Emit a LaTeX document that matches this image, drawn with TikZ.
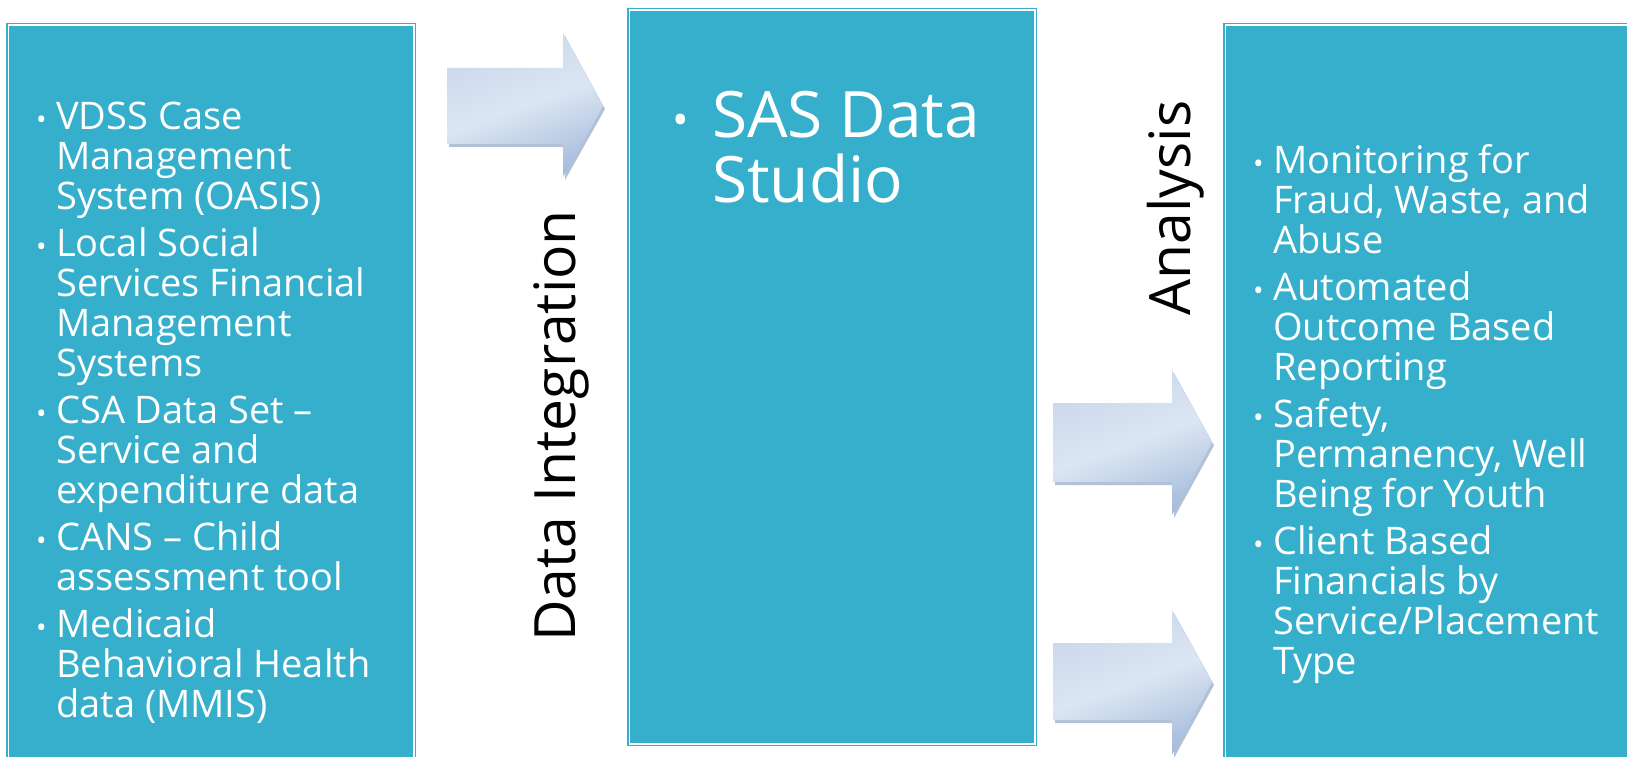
\documentclass[tikz,border=0pt]{standalone}
\usepackage{fontspec}
\setmainfont{Open Sans}
\usetikzlibrary{shadows}
\definecolor{boxfill}{HTML}{35AFCB}
\definecolor{arrlight}{HTML}{DCE6F2}
\definecolor{arrmid}{HTML}{C8D7EB}
\definecolor{arrdark}{HTML}{A7BDDD}
\definecolor{arrshadow}{HTML}{8FA6C8}
\newcommand{\bul}{\makebox[17pt][l]{\hspace{-3pt}\raisebox{0pt}{\fontsize{28}{28}\selectfont •}}}
\newcommand{\bigbul}{\makebox[36pt][l]{\hspace{-4pt}\raisebox{2pt}{\fontsize{44}{44}\selectfont •}}}
\begin{document}
\begin{tikzpicture}[x=1pt,y=-1pt,
  panel/.style={fill=boxfill, draw=boxfill, double=white, double distance=1.5pt, line width=1.5pt, inner sep=0, outer sep=0},
  bitem/.style={anchor=base west, inner sep=0, text=white, font=\fontsize{38}{40}\selectfont},
  vlabel/.style={anchor=base, rotate=90, inner sep=0, text=black, font=\fontsize{57}{60}\selectfont},
  blockarrow/.style={top color=arrmid, bottom color=arrdark, middle color=arrlight, shading angle=20,
    drop shadow={shadow xshift=2pt, shadow yshift=-3pt, fill=arrshadow, opacity=0.7}}
]
\useasboundingbox (0,0) rectangle (1627,757);
\clip (0,0) rectangle (1627,757);

% panels
\node[panel, minimum width=405.5pt, minimum height=772.5pt] (src) at (211,411.5) {};
\node[panel, minimum width=405.5pt, minimum height=733.5pt] (sasbox) at (832,377) {};
\node[panel, minimum width=472.5pt, minimum height=772.5pt] (outbox) at (1461.5,411.5) {};

% block arrows
\path[blockarrow] (447,68) -- (563,68) -- (563,33) -- (603,106) -- (563,177) -- (563,144) -- (447,144) -- cycle;
\path[blockarrow] (1053,403) -- (1172,403) -- (1172,370) -- (1212,442.5) -- (1172,515) -- (1172,482) -- (1053,482) -- cycle;
\path[blockarrow] (1053,643) -- (1172,643) -- (1172,610) -- (1212,682) -- (1172,755) -- (1172,720) -- (1053,720) -- cycle;

% left items
\node[bitem] (l1) at (39,129) {\bul\parbox[t]{340pt}{\raggedright VDSS Case\\Management\\System (OASIS)}};
\node[bitem] (l2) at (39,256) {\bul\parbox[t]{340pt}{\raggedright Local Social\\Services Financial\\Management\\Systems}};
\node[bitem] (l3) at (39,423) {\bul\parbox[t]{340pt}{\raggedright CSA Data Set --\\Service and\\expenditure data}};
\node[bitem] (l4) at (39,550) {\bul\parbox[t]{340pt}{\raggedright CANS -- Child\\assessment tool}};
\node[bitem] (l5) at (39,637) {\bul\parbox[t]{340pt}{\raggedright Medicaid\\Behavioral Health\\data (MMIS)}};

% middle
\node[anchor=base west, inner sep=0, text=white, font=\fontsize{64}{65}\selectfont] (sas) at (676,138)
  {\bigbul\parbox[t]{320pt}{\raggedright SAS Data\\Studio}};

% right items
\node[bitem] (r1) at (1256,173) {\bul\parbox[t]{360pt}{\raggedright Monitoring for\\Fraud, Waste, and\\Abuse}};
\node[bitem] (r2) at (1256,300) {\bul\parbox[t]{360pt}{\raggedright Automated\\Outcome Based\\Reporting}};
\node[bitem] (r3) at (1256,427) {\bul\parbox[t]{360pt}{\raggedright Safety,\\Permanency, Well\\Being for Youth}};
\node[bitem] (r4) at (1256,554) {\bul\parbox[t]{360pt}{\raggedright Client Based\\Financials by\\Service/Placement\\Type}};

% vertical labels
\node[vlabel] (integ) at (575,426) {Data Integration};
\node[vlabel] (anal) at (1190,208) {Analysis};
\end{tikzpicture}
\end{document}
